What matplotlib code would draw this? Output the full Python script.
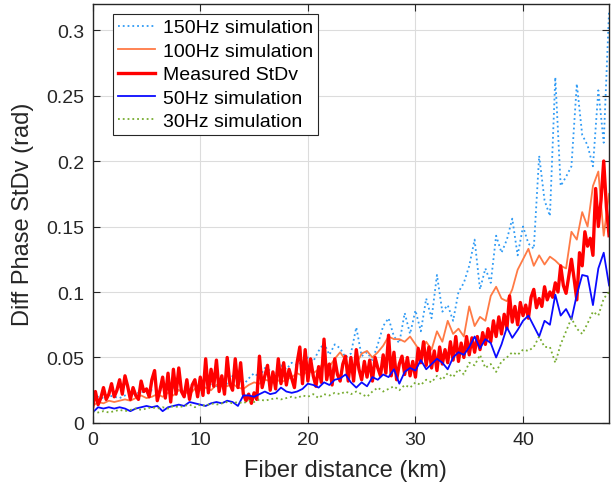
import numpy as np
import matplotlib
matplotlib.use("Agg")
import matplotlib.pyplot as plt

plt.rcParams['font.family'] = ['Liberation Sans', 'DejaVu Sans']

# fiber distance samples (km): simulations every 0.5 km, measurement every 0.25 km
distance_km = np.arange(0, 48.01, 0.5)
measured_km = np.arange(0, 48.01, 0.25)

sim_150hz = [
    0.018, 0.020, 0.019, 0.021, 0.020, 0.019, 0.021, 0.023, 0.022, 0.024,
    0.023, 0.025, 0.024, 0.026, 0.025, 0.027, 0.025, 0.024, 0.027, 0.026,
    0.028, 0.027, 0.030, 0.028, 0.033, 0.030, 0.036, 0.033, 0.029, 0.034,
    0.038, 0.035, 0.042, 0.040, 0.037, 0.044, 0.041, 0.046, 0.044, 0.047,
    0.050, 0.047, 0.055, 0.061, 0.052, 0.060, 0.057, 0.050, 0.053, 0.073,
    0.051, 0.054, 0.048, 0.060, 0.074, 0.080, 0.066, 0.061, 0.084, 0.068,
    0.086, 0.070, 0.095, 0.080, 0.113, 0.085, 0.090, 0.078, 0.100, 0.107,
    0.120, 0.140, 0.102, 0.118, 0.107, 0.143, 0.130, 0.140, 0.156, 0.128,
    0.150, 0.137, 0.133, 0.204, 0.170, 0.158, 0.264, 0.181, 0.188, 0.196,
    0.259, 0.220, 0.212, 0.196, 0.254, 0.214, 0.315,
]

sim_100hz = [
    0.013, 0.016, 0.015, 0.017, 0.016, 0.017, 0.018, 0.017, 0.019, 0.021,
    0.019, 0.020, 0.022, 0.020, 0.023, 0.021, 0.025, 0.024, 0.022, 0.026,
    0.025, 0.027, 0.025, 0.029, 0.031, 0.028, 0.030, 0.027, 0.026, 0.029,
    0.031, 0.030, 0.033, 0.032, 0.034, 0.031, 0.033, 0.035, 0.038, 0.036,
    0.040, 0.038, 0.041, 0.047, 0.043, 0.049, 0.054, 0.048, 0.039, 0.045,
    0.053, 0.055, 0.050, 0.054, 0.059, 0.066, 0.064, 0.064, 0.062, 0.066,
    0.060, 0.054, 0.062, 0.056, 0.070, 0.062, 0.078, 0.068, 0.072, 0.066,
    0.089, 0.074, 0.081, 0.078, 0.097, 0.104, 0.095, 0.093, 0.102, 0.117,
    0.125, 0.133, 0.120, 0.128, 0.121, 0.127, 0.124, 0.120, 0.118, 0.146,
    0.140, 0.161, 0.150, 0.181, 0.192, 0.143, 0.175,
]

# 8 values per row = 2 km
measured = [
    0.012, 0.024, 0.014, 0.019, 0.027, 0.018, 0.022, 0.030,
    0.020, 0.025, 0.033, 0.022, 0.036, 0.028, 0.018, 0.027,
    0.021, 0.018, 0.032, 0.024, 0.026, 0.020, 0.033, 0.040,
    0.017, 0.025, 0.035, 0.019, 0.038, 0.016, 0.041, 0.022,
    0.042, 0.024, 0.020, 0.033, 0.018, 0.029, 0.033, 0.020,
    0.035, 0.021, 0.049, 0.023, 0.041, 0.028, 0.048, 0.024,
    0.036, 0.022, 0.050, 0.030, 0.025, 0.049, 0.027, 0.046,
    0.022, 0.017, 0.022, 0.015, 0.023, 0.018, 0.051, 0.027,
    0.036, 0.044, 0.025, 0.039, 0.026, 0.049, 0.030, 0.046,
    0.029, 0.041, 0.034, 0.027, 0.046, 0.058, 0.030, 0.056,
    0.032, 0.049, 0.036, 0.028, 0.043, 0.031, 0.064, 0.033,
    0.045, 0.029, 0.049, 0.037, 0.032, 0.045, 0.051, 0.032,
    0.050, 0.032, 0.056, 0.041, 0.033, 0.047, 0.035, 0.048,
    0.032, 0.050, 0.042, 0.036, 0.052, 0.038, 0.067, 0.036,
    0.054, 0.033, 0.045, 0.051, 0.037, 0.050, 0.036, 0.047,
    0.035, 0.057, 0.046, 0.062, 0.044, 0.058, 0.042, 0.055,
    0.040, 0.058, 0.045, 0.056, 0.046, 0.062, 0.048, 0.066,
    0.047, 0.061, 0.050, 0.066, 0.052, 0.065, 0.054, 0.066,
    0.056, 0.069, 0.060, 0.072, 0.062, 0.078, 0.066, 0.081,
    0.068, 0.083, 0.072, 0.097, 0.077, 0.089, 0.075, 0.092,
    0.082, 0.090, 0.080, 0.096, 0.102, 0.088, 0.095, 0.089,
    0.104, 0.094, 0.100, 0.096, 0.107, 0.100, 0.120, 0.105,
    0.099, 0.112, 0.125, 0.110, 0.094, 0.130, 0.120, 0.146,
    0.135, 0.141, 0.128, 0.179, 0.150, 0.170, 0.200, 0.165,
    0.143,
]

sim_50hz = [
    0.008, 0.012, 0.011, 0.012, 0.011, 0.012, 0.011, 0.009, 0.011, 0.012,
    0.013, 0.012, 0.013, 0.009, 0.012, 0.013, 0.014, 0.013, 0.016, 0.015,
    0.014, 0.013, 0.015, 0.016, 0.015, 0.017, 0.016, 0.013, 0.021, 0.021,
    0.020, 0.022, 0.024, 0.022, 0.023, 0.027, 0.024, 0.023, 0.024, 0.026,
    0.030, 0.029, 0.027, 0.031, 0.029, 0.033, 0.034, 0.037, 0.031, 0.027,
    0.031, 0.028, 0.035, 0.033, 0.037, 0.035, 0.041, 0.030, 0.039, 0.042,
    0.040, 0.048, 0.041, 0.045, 0.049, 0.046, 0.041, 0.050, 0.054, 0.052,
    0.058, 0.066, 0.057, 0.064, 0.061, 0.050, 0.060, 0.073, 0.065, 0.071,
    0.078, 0.082, 0.074, 0.066, 0.078, 0.075, 0.098, 0.082, 0.087, 0.079,
    0.098, 0.113, 0.112, 0.090, 0.118, 0.130, 0.105,
]

sim_30hz = [
    0.009, 0.008, 0.009, 0.008, 0.009, 0.010, 0.009, 0.010, 0.011, 0.010,
    0.011, 0.012, 0.011, 0.012, 0.011, 0.013, 0.012, 0.013, 0.014, 0.012,
    0.014, 0.013, 0.015, 0.014, 0.015, 0.016, 0.015, 0.016, 0.015, 0.017,
    0.016, 0.018, 0.017, 0.018, 0.019, 0.018, 0.019, 0.020, 0.019, 0.021,
    0.020, 0.022, 0.019, 0.022, 0.021, 0.023, 0.022, 0.024, 0.022, 0.024,
    0.022, 0.020, 0.024, 0.027, 0.024, 0.026, 0.028, 0.025, 0.029, 0.027,
    0.031, 0.029, 0.033, 0.031, 0.036, 0.033, 0.038, 0.035, 0.041, 0.037,
    0.046, 0.044, 0.052, 0.042, 0.045, 0.039, 0.047, 0.050, 0.054, 0.052,
    0.056, 0.055, 0.058, 0.066, 0.058, 0.058, 0.046, 0.060, 0.070, 0.080,
    0.072, 0.068, 0.076, 0.085, 0.082, 0.095, 0.100,
]

fig = plt.figure(figsize=(6.14, 4.89), dpi=100)
ax = fig.add_axes([0.151, 0.133, 0.841, 0.857])

ax.plot(distance_km, sim_150hz, ':', color='#2f9bf5', lw=1.3, label='150Hz simulation')
ax.plot(distance_km, sim_100hz, '-', color='#ff7a45', lw=1.3, label='100Hz simulation')
ax.plot(measured_km, measured, '-', color='#ff0000', lw=2.4, label='Measured StDv')
ax.plot(distance_km, sim_50hz, '-', color='#0a0aff', lw=1.3, label='50Hz simulation')
ax.plot(distance_km, sim_30hz, ':', color='#77ac30', lw=1.3, label='30Hz simulation')

ax.set_xlim(0, 48)
ax.set_ylim(0, 0.32)
ax.set_xticks([0, 10, 20, 30, 40])
ax.set_yticks([0, 0.05, 0.1, 0.15, 0.2, 0.25, 0.3])
ax.set_yticklabels(['0', '0.05', '0.1', '0.15', '0.2', '0.25', '0.3'])
ax.tick_params(direction='in', top=True, right=True, labelsize=14, length=5,
               pad=6, colors='#262626')
ax.grid(True, color='#dcdcdc', lw=0.8)
for s in ax.spines.values():
    s.set_color('#262626')
    s.set_linewidth(1.0)

ax.set_xlabel('Fiber distance (km)', fontsize=17, color='#262626')
ax.set_ylabel('Diff Phase StDv (rad)', fontsize=17, color='#262626')
ax.xaxis.set_label_coords(0.49, -0.085)
ax.yaxis.set_label_coords(-0.114, 0.5)

leg = ax.legend(loc='upper left', bbox_to_anchor=(0.039, 0.976), borderaxespad=0,
                fontsize=14, fancybox=False, framealpha=1, edgecolor='#262626',
                handlelength=1.9, handletextpad=0.45, borderpad=0.25,
                labelspacing=0.3)
leg.get_frame().set_linewidth(0.8)

fig.savefig('out.png', dpi=100)
